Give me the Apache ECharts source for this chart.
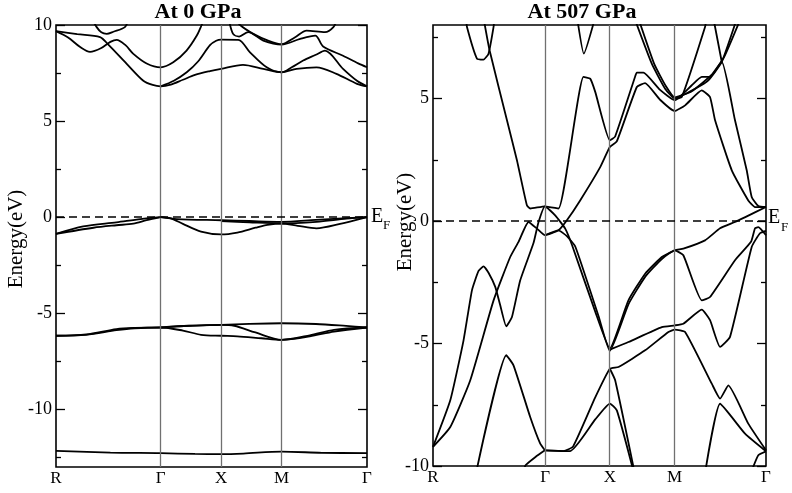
<!DOCTYPE html>
<html><head><meta charset="utf-8">
<script src="https://cdn.jsdelivr.net/npm/echarts@6/dist/echarts.min.js"></script>
<style>html,body{margin:0;padding:0;background:#fff}#c{width:792px;height:493px}</style>
</head><body><div id="c"></div>
<script>
// high-symmetry path (cumulative k distance, simple cubic: R-G = sqrt3, G-X = 1, X-M = 1, M-G = sqrt2)
const kLabels = ['R', 'Γ', 'X', 'M', 'Γ'];
const kPoints = [0, 1.732, 2.732, 3.732, 5.146];
const yTicksLeft = [-10, -5, 0, 5, 10];
const yMinorLeft = [-12.5, -7.5, -2.5, 2.5, 7.5];
const yTicksRight = [-10, -5, 0, 5];
const yMinorRight = [-7.5, -2.5, 2.5, 7.5];
const titles = ['At 0 GPa', 'At 507 GPa'];

// ---- At 0 GPa bands [k, E(eV)] ----
const lc1 = [[0,9.68],[0.35,9.52],[0.728,9.37],[0.866,8.98],[1.17,7.98],[1.445,7.1],[1.6,6.88],[1.732,6.81],[1.9,6.9],[2.1,7.15],[2.3,7.4],[2.548,7.6],[2.732,7.72],[3.094,7.93],[3.43,7.72],[3.732,7.54],[3.98,7.72],[4.31,7.8],[4.64,7.46],[4.98,6.94],[5.146,6.81]];
const lc2 = [[0,9.68],[0.2,9.35],[0.4,8.85],[0.563,8.6],[0.75,8.8],[0.9,9.12],[1.004,9.23],[1.15,8.95],[1.28,8.5],[1.5,8.0],[1.732,7.8],[1.94,8.06],[2.16,8.67],[2.33,9.45],[2.41,10.0],[2.45,10.3]];
const lc3 = [[1.732,6.81],[1.95,7.1],[2.163,7.54],[2.35,8.1],[2.548,8.95],[2.65,9.18],[2.732,9.24],[3.017,9.23],[3.21,8.58],[3.486,7.8],[3.732,7.54],[3.9,7.8],[4.09,8.15],[4.3,8.45],[4.451,8.67],[4.75,7.72],[4.98,7.1],[5.146,6.81]];
const lc4 = [[2.86,10.3],[2.93,9.54],[3.03,9.4],[3.18,9.63],[3.43,9.19],[3.732,8.98],[4.04,9.28],[4.29,9.45],[4.42,8.88],[4.75,8.4],[5.0,8.0],[5.146,7.8]];
const lc5 = [[2.98,10.3],[3.045,10.0],[3.265,9.54],[3.5,9.2],[3.732,9.0],[3.95,9.35],[4.148,9.71],[4.451,9.63],[4.59,9.89],[4.65,10.3]];
const lc6 = [[0.6,10.3],[0.673,9.89],[0.75,9.62],[0.839,9.54],[0.95,9.65],[1.14,9.89],[1.2,10.3]];
const lv1 = [[0,-0.87],[0.45,-0.48],[1.0,-0.27],[1.4,-0.1],[1.732,0]];
const lv2 = [[0,-0.87],[0.62,-0.55],[1.0,-0.42],[1.28,-0.34],[1.5,-0.16],[1.732,0]];
const lv3 = [[1.732,0],[1.9,-0.06],[2.1,-0.35],[2.4,-0.75],[2.732,-0.9],[3.0,-0.8],[3.3,-0.55],[3.5,-0.4],[3.732,-0.33],[4.0,-0.45],[4.31,-0.58],[4.7,-0.35],[5.146,0]];
const lv4 = [[1.732,0],[2.0,-0.1],[2.732,-0.16],[3.2,-0.2],[3.732,-0.24],[4.3,-0.14],[5.146,0]];
const lv5 = [[2.732,-0.2],[3.2,-0.27],[3.732,-0.33],[4.31,-0.24],[4.8,-0.08],[5.146,0]];
const lv6 = [[0,-6.17],[0.5,-6.12],[1.0,-5.88],[1.3,-5.78],[1.732,-5.74],[2.1,-5.9],[2.4,-6.12],[2.732,-6.17],[3.0,-6.2],[3.4,-6.3],[3.732,-6.38],[4.2,-6.2],[4.6,-5.95],[5.146,-5.74]];
const lv7 = [[0,-6.17],[0.5,-6.1],[1.0,-5.82],[1.3,-5.76],[1.732,-5.74],[2.0,-5.68],[2.732,-5.6],[2.95,-5.65],[3.3,-6.0],[3.732,-6.38],[4.2,-6.15],[4.6,-5.86],[5.146,-5.74]];
const lv8 = [[1.732,-5.74],[2.2,-5.65],[2.732,-5.6],[3.2,-5.55],[3.732,-5.52],[4.3,-5.56],[4.8,-5.66],[5.146,-5.74]];
const lv9 = [[0,-12.16],[0.9,-12.25],[1.732,-12.28],[2.3,-12.32],[2.732,-12.33],[3.1,-12.3],[3.732,-12.2],[4.4,-12.26],[5.146,-12.28]];

// ---- At 507 GPa bands [k, E(eV)] ----
const rb1 = [[0.78,8.3],[0.874,6.97],[1.143,4.11],[1.297,2.48],[1.451,0.64],[1.502,0.51],[1.729,0.6],[1.939,0.51],[2.325,5.88],[2.429,5.81],[2.507,5.27],[2.733,3.29],[2.815,3.45],[3.124,5.9],[3.150,6.06],[3.252,6.06],[3.509,5.35],[3.736,4.93],[3.999,5.54],[4.153,5.88],[4.281,5.88],[4.462,6.5],[4.667,4.11],[4.848,2.07],[4.925,0.98],[5.027,0.61],[5.146,0.57]];
const rb2 = [[0,-9.22],[0.267,-8.41],[0.576,-6.5],[0.936,-3.24],[1.193,-1.47],[1.322,-0.85],[1.476,-0.04],[1.606,-0.31],[1.729,-0.58],[1.939,-0.38],[2.069,0.03],[2.274,0.84],[2.584,2.2],[2.733,3.02],[2.84,3.25],[3.150,5.47],[3.278,5.63],[3.509,4.95],[3.736,4.49],[3.896,4.72],[4.153,5.33],[4.281,5.06],[4.359,4.11],[4.617,2.07],[4.872,0.84],[4.976,0.57],[5.146,0.57]];
const rb3 = [[0,-9.22],[0.267,-7.32],[0.472,-4.87],[0.602,-2.83],[0.704,-2.04],[0.781,-1.85],[0.858,-2.11],[0.962,-2.69],[1.039,-3.44],[1.132,-4.3],[1.220,-3.92],[1.348,-2.42],[1.553,-0.9],[1.63,-0.05],[1.729,0.6],[1.888,0.23],[2.043,-0.31],[2.151,-1.0],[2.507,-3.7],[2.733,-5.2],[3.020,-3.24],[3.278,-2.15],[3.536,-1.47],[3.736,-1.2],[3.869,-1.13],[4.204,-0.79],[4.436,-0.3],[4.667,-0.04],[4.826,0.16],[5.146,0.57]];
const rb4 = [[1.729,-0.58],[1.939,-0.38],[2.069,-0.62],[2.20,-1.05],[2.56,-3.9],[2.733,-5.3],[3.020,-3.4],[3.278,-2.28],[3.536,-1.55],[3.736,-1.2],[3.869,-1.4],[4.153,-3.24],[4.281,-3.1],[4.667,-1.6],[4.914,-0.85],[4.976,-0.3],[5.027,-0.25],[5.146,-0.58]];
const rb5 = [[2.733,-5.25],[3.020,-4.94],[3.536,-4.33],[3.736,-4.26],[3.869,-4.19],[4.153,-3.62],[4.281,-4.05],[4.436,-5.14],[4.590,-4.73],[4.925,-1.06],[5.053,-0.5],[5.146,-0.4]];
const rb6 = [[1.729,-9.36],[2.016,-9.39],[2.166,-9.2],[2.507,-7.2],[2.733,-6.03],[2.866,-5.96],[3.278,-5.28],[3.638,-4.53],[3.736,-4.43],[3.896,-4.53],[4.308,-6.64],[4.436,-7.25],[4.564,-6.71],[4.872,-8.27],[5.146,-9.36]];
const rb7 = [[1.729,-9.36],[2.120,-9.39],[2.507,-8.1],[2.733,-7.45],[2.841,-7.73],[3.097,-10.2]];
const rb8 = [[2.733,-6.03],[2.815,-6.5],[3.11,-10.2]];
const rb9 = [[4.21,-10.2],[4.436,-7.46],[4.822,-8.68],[5.146,-9.4]];
const rb10 = [[4.925,-10.2],[5.027,-9.56],[5.146,-9.4]];
const rb11 = [[1.40,-10.2],[1.430,-9.97],[1.584,-9.63],[1.729,-9.36]];
const rb12 = [[0.672,-10.2],[1.132,-5.48],[1.244,-5.89],[1.502,-8.0],[1.657,-9.09],[1.729,-9.36]];
const rb13 = [[0.51,8.3],[0.525,7.92],[0.679,6.63],[0.781,6.59],[0.858,6.83],[0.936,7.92],[0.95,8.3]];
const rb14 = [[2.227,8.3],[2.331,6.83],[2.505,8.3]];
const rb15 = [[3.11,8.3],[3.381,6.42],[3.587,5.4],[3.736,5.0],[4.050,5.4],[4.255,5.74],[4.462,6.49],[4.70,8.3]];
const rb16 = [[3.17,8.3],[3.42,6.4],[3.6,5.5],[3.736,5.05],[4.0,5.3],[4.3,5.95],[4.5,6.7],[4.76,8.3]];
const rb17 = [[4.33,8.3],[4.359,7.92],[4.462,6.5]];
const rb18 = [[3.75,4.98],[3.845,5.06],[4.204,7.92],[4.23,8.3]];

const bandsLeft = [lc1, lc2, lc3, lc4, lc5, lc6, lv1, lv2, lv3, lv4, lv5, lv6, lv7, lv8, lv9];
const bandsRight = [rb1, rb2, rb3, rb4, rb5, rb6, rb7, rb8, rb9, rb10, rb11, rb12, rb13, rb14, rb15, rb16, rb17, rb18];

const FONT = '"Liberation Serif", "Times New Roman", serif';
const chart = echarts.init(document.getElementById('c'), null, {renderer: 'canvas'});

function kName(v) {
  for (let i = 0; i < kPoints.length; i++) if (Math.abs(v - kPoints[i]) < 1e-6) return kLabels[i];
  return '';
}
function xAxisFor(gi) {
  return {
    gridIndex: gi, type: 'value', min: kPoints[0], max: kPoints[kPoints.length - 1],
    axisLine: {show: false, onZero: false}, axisTick: {show: false}, splitLine: {show: false},
    axisLabel: {customValues: kPoints, formatter: kName, fontFamily: FONT, fontSize: 17, color: '#000', margin: 3}
  };
}
function yAxesFor(gi, min, max, major, minor) {
  const base = {gridIndex: gi, type: 'value', min: min, max: max, splitLine: {show: false},
    axisLine: {show: false, onZero: false}};
  const tickStyle = {color: '#000', width: 1.3};
  return [
    Object.assign({}, base, {position: 'left', axisTick: {show: true, inside: true, length: 9, customValues: major, lineStyle: tickStyle},
      axisLabel: {customValues: major, fontFamily: FONT, fontSize: 18, color: '#000', margin: 4}}),
    Object.assign({}, base, {position: 'left', axisTick: {show: true, inside: true, length: 5, customValues: minor, lineStyle: tickStyle}, axisLabel: {show: false}}),
    Object.assign({}, base, {position: 'right', axisTick: {show: true, inside: true, length: 9, customValues: major, lineStyle: tickStyle}, axisLabel: {show: false}}),
    Object.assign({}, base, {position: 'right', axisTick: {show: true, inside: true, length: 5, customValues: minor, lineStyle: tickStyle}, axisLabel: {show: false}})
  ];
}
function bandSeries(data, gi, smooth) {
  return {type: 'line', xAxisIndex: gi, yAxisIndex: gi * 4, data: data, symbol: 'none', showSymbol: false,
    smooth: smooth, lineStyle: {color: '#000', width: 1.8}, silent: true, clip: true, z: 3};
}
function guideSeries(gi) {
  return {type: 'line', xAxisIndex: gi, yAxisIndex: gi * 4, data: [], symbol: 'none', silent: true, z: 2,
    markLine: {symbol: ['none', 'none'], silent: true, animation: false, label: {show: false},
      data: [
        ...kPoints.slice(1, kPoints.length - 1).map(k => ({xAxis: k, lineStyle: {color: '#707070', width: 1.3, type: 'solid'}})),
        {yAxis: 0, lineStyle: {color: '#000', width: 1.5, type: [8, 5]}}
      ]}};
}

const series = [guideSeries(0), guideSeries(1)];
bandsLeft.forEach(b => series.push(bandSeries(b, 0, 0.3)));
bandsRight.forEach(b => series.push(bandSeries(b, 1, 0.15)));

const txt = (x, y, text, size, extra) => Object.assign({type: 'text', x: x, y: y, z: 10,
  style: Object.assign({text: text, fontFamily: 'Liberation Serif', fontSize: size, fill: '#000', align: 'center', verticalAlign: 'middle'}, extra || {})});

chart.setOption({
  animation: false,
  backgroundColor: '#fff',
  grid: [
    {left: 56, top: 25, width: 311, height: 442, show: true, borderColor: '#000', borderWidth: 1.6, containLabel: false},
    {left: 433, top: 25, width: 333, height: 441, show: true, borderColor: '#000', borderWidth: 1.6, containLabel: false}
  ],
  xAxis: [xAxisFor(0), xAxisFor(1)],
  yAxis: [].concat(yAxesFor(0, -13, 10, yTicksLeft, yMinorLeft), yAxesFor(1, -10, 8, yTicksRight, yMinorRight)),
  series: series,
  graphic: [
    txt(198, 12, titles[0], 22, {fontWeight: 'bold'}),
    txt(582, 12, titles[1], 22, {fontWeight: 'bold'}),
    Object.assign(txt(16, 239, 'Energy(eV)', 21), {rotation: Math.PI / 2}),
    Object.assign(txt(405, 222, 'Energy(eV)', 21), {rotation: Math.PI / 2}),
    txt(371, 217, 'E', 20, {align: 'left'}),
    txt(383, 226, 'F', 13, {align: 'left'}),
    txt(768, 218, 'E', 20, {align: 'left'}),
    txt(781, 228, 'F', 13, {align: 'left'})
  ]
});
</script></body></html>
